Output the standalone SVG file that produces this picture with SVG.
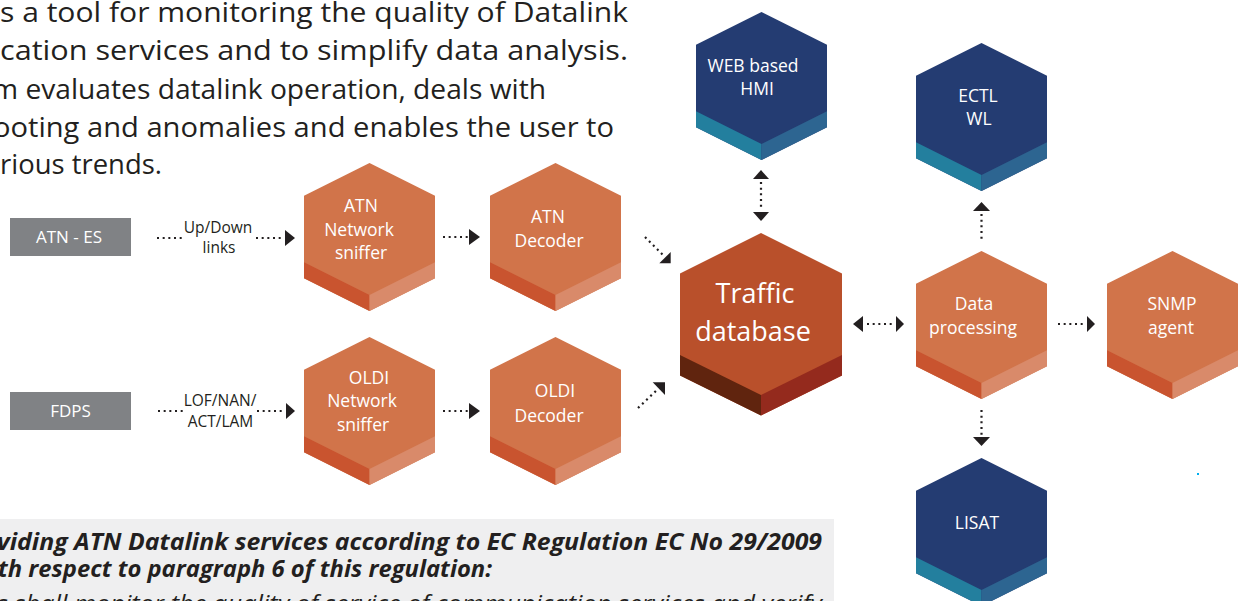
<svg xmlns="http://www.w3.org/2000/svg" width="1241" height="601" viewBox="0 0 1241 601">
<style>
.para{font-family:"Open Sans","Liberation Sans",sans-serif;font-size:26.5px;fill:#231f20}
.reg{font-family:"Open Sans","Liberation Sans",sans-serif;font-size:24px;font-weight:bold;font-style:italic;fill:#231f20}
.reg3{font-family:"Open Sans","Liberation Sans",sans-serif;font-size:23px;font-style:italic;fill:#231f20}
.box{fill:#808285}
.bt{font-family:"Open Sans","Liberation Sans",sans-serif;font-size:17px;fill:#ffffff;text-anchor:middle}
.lbl{font-family:"Open Sans","Liberation Sans",sans-serif;font-size:15.5px;fill:#231f20;text-anchor:middle}
.ht{font-family:"Open Sans","Liberation Sans",sans-serif;font-size:17.5px;fill:#ffffff;text-anchor:middle}
.big{font-family:"Open Sans","Liberation Sans",sans-serif;font-size:27px;fill:#ffffff;text-anchor:middle}
.oF{fill:#d1744a}.oL{fill:#c9542f}.oR{fill:#d98a6a}
.bF{fill:#243c72}.bL{fill:#237f9e}.bR{fill:#2d6591}
.dot{fill:none;stroke:#231f20;stroke-width:2.2;stroke-dasharray:2 3.67}
.ah{fill:#231f20}
</style>
<defs>
<g id="hexO">
<path class="oF" d="M65.5,0 L131,32.75 L131,115.25 L65.5,148 L0,115.25 L0,32.75 Z"/>
<path class="oL" d="M0,99.25 L65.5,132 L65.5,148 L0,115.25 Z"/>
<path class="oR" d="M65.5,132 L131,99.25 L131,115.25 L65.5,148 Z"/>
</g>
<g id="hexB">
<path class="bF" d="M65.5,0 L131,32.75 L131,115.25 L65.5,148 L0,115.25 L0,32.75 Z"/>
<path class="bL" d="M0,99.25 L65.5,132 L65.5,148 L0,115.25 Z"/>
<path class="bR" d="M65.5,132 L131,99.25 L131,115.25 L65.5,148 Z"/>
</g>
</defs>
<rect width="1241" height="601" fill="#ffffff"/>

<g id="intro">
<text class="para" x="0" y="22" textLength="628" lengthAdjust="spacingAndGlyphs">s a tool for monitoring the quality of Datalink</text>
<text class="para" x="0" y="60" textLength="628" lengthAdjust="spacingAndGlyphs">cation services and to simplify data analysis.</text>
<text class="para" x="-8" y="98.5" textLength="554" lengthAdjust="spacingAndGlyphs">m evaluates datalink operation, deals with</text>
<text class="para" x="-7" y="136.5" textLength="621" lengthAdjust="spacingAndGlyphs">ooting and anomalies and enables the user to</text>
<text class="para" x="0" y="174" textLength="162" lengthAdjust="spacingAndGlyphs">rious trends.</text>
</g>

<g id="regulation">
<rect x="0" y="519" width="834" height="82" fill="#efeff0"/>
<text class="reg" x="-3" y="550" textLength="825" lengthAdjust="spacingAndGlyphs">viding ATN Datalink services according to EC Regulation EC No 29/2009</text>
<text class="reg" x="-2" y="577" textLength="494" lengthAdjust="spacingAndGlyphs">th respect to paragraph 6 of this regulation:</text>
<text class="reg3" x="-3" y="612" textLength="825" lengthAdjust="spacingAndGlyphs">s shall monitor the quality of service of communication services and verify</text>
</g>

<g id="atn-es">
<rect class="box" x="10" y="218" width="121" height="38"/>
<text class="bt" x="69" y="243">ATN - ES</text>
</g>
<g id="fdps">
<rect class="box" x="10" y="392" width="121" height="38"/>
<text class="bt" x="70.5" y="417">FDPS</text>
</g>

<g id="atn-sniffer">
<use href="#hexO" x="304" y="163"/>
<text class="ht" x="361" y="212">ATN</text>
<text class="ht" x="359" y="236">Network</text>
<text class="ht" x="361" y="259">sniffer</text>
</g>
<g id="oldi-sniffer">
<use href="#hexO" x="304" y="337"/>
<text class="ht" x="369" y="384">OLDI</text>
<text class="ht" x="362" y="407">Network</text>
<text class="ht" x="363" y="431">sniffer</text>
</g>
<g id="atn-decoder">
<use href="#hexO" x="490" y="163"/>
<text class="ht" x="548" y="223">ATN</text>
<text class="ht" x="549" y="247">Decoder</text>
</g>
<g id="oldi-decoder">
<use href="#hexO" x="490" y="337"/>
<text class="ht" x="555" y="397">OLDI</text>
<text class="ht" x="549" y="422">Decoder</text>
</g>

<g id="traffic-db">
<path fill="#b9502b" d="M761,233 L842,273.5 L842,375.5 L761,415.5 L680,375.5 L680,273.5 Z"/>
<path fill="#60240e" d="M680,355 L761,395 L761,415.5 L680,375.5 Z"/>
<path fill="#942a1d" d="M761,395 L842,355 L842,375.5 L761,415.5 Z"/>
<text class="big" x="755" y="303">Traffic</text>
<text class="big" x="753" y="341">database</text>
</g>

<g id="web-hmi">
<use href="#hexB" x="696" y="12"/>
<text class="ht" x="753" y="72">WEB based</text>
<text class="ht" x="757" y="95">HMI</text>
</g>
<g id="ectl-wl">
<use href="#hexB" x="916" y="43"/>
<text class="ht" x="978" y="102">ECTL</text>
<text class="ht" x="979" y="125">WL</text>
</g>
<g id="data-processing">
<use href="#hexO" x="916" y="251"/>
<text class="ht" x="974" y="310">Data</text>
<text class="ht" x="973" y="334">processing</text>
</g>
<g id="snmp-agent">
<use href="#hexO" x="1107" y="251"/>
<text class="ht" x="1172" y="310">SNMP</text>
<text class="ht" x="1171" y="334">agent</text>
</g>
<g id="lisat">
<use href="#hexB" x="916" y="458"/>
<text class="ht" x="977" y="529">LISAT</text>
</g>

<g id="connectors">
<line class="dot" x1="157" y1="238" x2="184" y2="238"/>
<text class="lbl" x="218" y="233">Up/Down</text>
<text class="lbl" x="219" y="253">links</text>
<line class="dot" x1="256" y1="238" x2="284" y2="238"/>
<polygon class="ah" points="285,230 295,238 285,246"/>

<line class="dot" x1="158" y1="411" x2="184" y2="411"/>
<text class="lbl" x="220" y="406">LOF/NAN/</text>
<text class="lbl" x="220.5" y="427">ACT/LAM</text>
<line class="dot" x1="257" y1="411" x2="285" y2="411"/>
<polygon class="ah" points="286,403 295,411 286,419"/>

<line class="dot" x1="443" y1="237" x2="468" y2="237"/>
<polygon class="ah" points="469,229 480,237 469,245"/>
<line class="dot" x1="443" y1="411" x2="468" y2="411"/>
<polygon class="ah" points="469,403 480,411 469,419"/>

<line class="dot" x1="645" y1="237" x2="664" y2="256"/>
<polygon class="ah" points="659.3,263.3 670.7,263.3 670.7,252"/>
<line class="dot" x1="638" y1="408" x2="658" y2="389"/>
<polygon class="ah" points="652.7,382.3 665,382.3 665,395"/>

<polygon class="ah" points="753,179 761,170 769,179"/>
<line class="dot" x1="761" y1="182" x2="761" y2="209"/>
<polygon class="ah" points="753,212 761,221 769,212"/>

<polygon class="ah" points="973,211 981.5,202 990,211"/>
<line class="dot" x1="981.5" y1="214" x2="981.5" y2="240"/>

<polygon class="ah" points="863,316 853,324 863,332"/>
<line class="dot" x1="867" y1="324" x2="894" y2="324"/>
<polygon class="ah" points="896,316 904,324 896,332"/>

<line class="dot" x1="1058" y1="324" x2="1085" y2="324"/>
<polygon class="ah" points="1087,316 1095,324 1087,332"/>

<line class="dot" x1="981.5" y1="410" x2="981.5" y2="436"/>
<polygon class="ah" points="973,437 981.5,446 990,437"/>
</g>

<rect x="1197" y="473" width="2" height="2" fill="#00aeef"/>
</svg>
